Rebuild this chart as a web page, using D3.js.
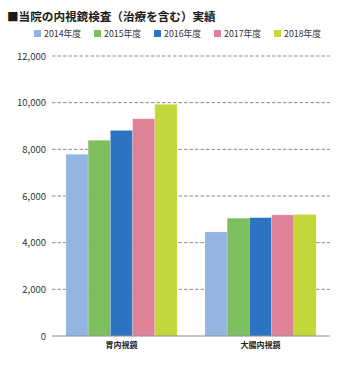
<!DOCTYPE html>
<html><head><meta charset="utf-8">
<script src="https://cdn.jsdelivr.net/npm/d3@7"></script>
<style>
html,body{margin:0;padding:0;background:#fff;}
text{font-family:"Noto Sans CJK JP","Noto Sans",sans-serif;}
</style></head>
<body>
<svg id="chart" width="360" height="370"></svg>
<script>
const title = "■当院の内視鏡検査（治療を含む）実績";
const categories = ["胃内視鏡", "大腸内視鏡"];
const seriesNames = ["2014年度", "2015年度", "2016年度", "2017年度", "2018年度"];
const seriesColors = ["#94b4e2", "#7dbf5e", "#2a74c3", "#e08297", "#c3d73a"];
const values2014 = [7790, 4460];
const values2015 = [8390, 5050];
const values2016 = [8810, 5070];
const values2017 = [9310, 5190];
const values2018 = [9930, 5210];
const yTicks = [0, 2000, 4000, 6000, 8000, 10000, 12000];

const seriesValues = [values2014, values2015, values2016, values2017, values2018];
const svg = d3.select("#chart");
const m = {left: 52, right: 30, top: 56, bottom: 34};
const W = 360, H = 370;

const y = d3.scaleLinear().domain([0, 12000]).range([H - m.bottom, m.top]);
const x0 = d3.scaleBand().domain(categories).range([m.left, W - m.right]).paddingInner(0.2).paddingOuter(0.1);
const x1 = d3.scaleBand().domain(seriesNames).range([0, x0.bandwidth()]).padding(0);

// title
svg.append("text").attr("x", 7).attr("y", 21).attr("font-size", 11.6).attr("font-weight", 700)
  .attr("fill", "#1a1a1a").text(title);

// legend
const leg = svg.append("g");
seriesNames.forEach((s, i) => {
  const gx = 34 + i * 60;
  leg.append("rect").attr("x", gx).attr("y", 30).attr("width", 7).attr("height", 7).attr("fill", seriesColors[i]);
  leg.append("text").attr("x", gx + 10).attr("y", 36.5).attr("font-size", 8.8).attr("fill", "#333").text(s);
});

// gridlines
const grid = svg.append("g");
yTicks.filter(t => t > 0).forEach(t => {
  grid.append("line").attr("x1", m.left).attr("x2", W - m.right).attr("y1", y(t)).attr("y2", y(t))
    .attr("stroke", "#8a8a8a").attr("stroke-width", 1).attr("stroke-dasharray", "3.5,2");
});

// y axis labels
const yAxis = d3.axisLeft(y).tickValues(yTicks).tickSize(0).tickPadding(6).tickFormat(d3.format(","));
const ya = svg.append("g").attr("transform", `translate(${m.left},0)`).call(yAxis);
ya.select(".domain").remove();
ya.selectAll("text").attr("font-size", 9.5).attr("fill", "#333").attr("font-family", "'Noto Sans',sans-serif");

// bars
const groups = svg.append("g").selectAll("g").data(categories).join("g")
  .attr("transform", d => `translate(${x0(d)},0)`);
groups.selectAll("rect").data((d, ci) => seriesNames.map((s, si) => ({s, si, v: seriesValues[si][ci]})))
  .join("rect")
  .attr("x", d => x1(d.s)).attr("width", x1.bandwidth())
  .attr("y", d => y(d.v)).attr("height", d => y(0) - y(d.v))
  .attr("fill", d => seriesColors[d.si])
  .attr("stroke", "rgba(255,255,255,0.35)").attr("stroke-width", 0.6);

// baseline
svg.append("line").attr("x1", m.left).attr("x2", W - m.right).attr("y1", y(0)).attr("y2", y(0))
  .attr("stroke", "#888").attr("stroke-width", 1);

// x axis labels
const xAxis = d3.axisBottom(x0).tickSize(0).tickPadding(6);
const xa = svg.append("g").attr("transform", `translate(0,${y(0)})`).call(xAxis);
xa.select(".domain").remove();
xa.selectAll("text").attr("font-size", 8).attr("font-weight", 700).attr("fill", "#222")
  .attr("font-family", "'Noto Sans CJK JP',sans-serif");
</script>
</body></html>
